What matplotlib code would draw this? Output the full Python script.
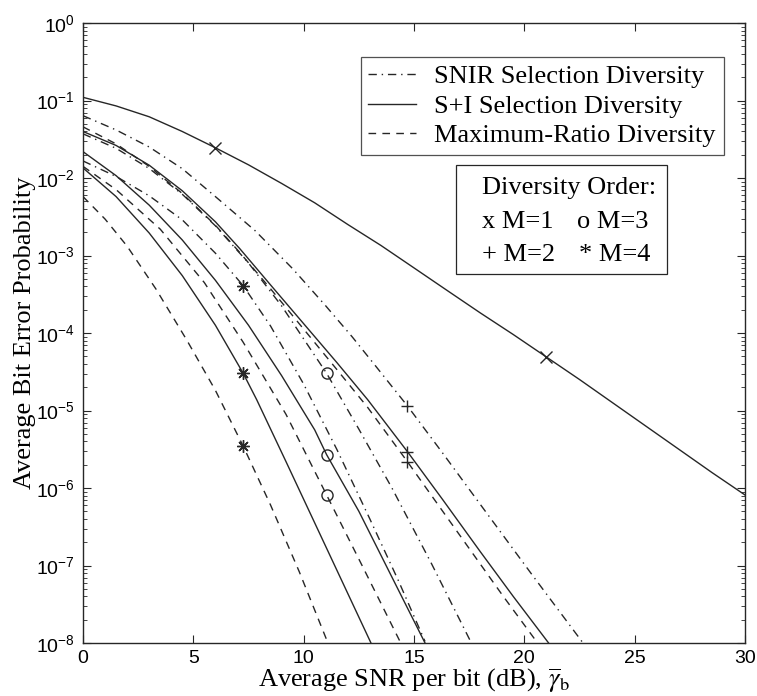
import numpy as np
import matplotlib
matplotlib.use('Agg')
import matplotlib.pyplot as plt
from matplotlib.lines import Line2D
from matplotlib.patches import Rectangle

plt.rcParams['font.family'] = ['Liberation Serif', 'DejaVu Serif']
plt.rcParams['mathtext.fontset'] = 'stix'

# valores lidos en escala log10 da probabilidade de erro

# M=1: as tres técnicas coinciden
snr_m1 = [0, 1.5, 3, 4.5, 6, 7.5, 9, 10.5, 12, 13.5, 15, 16.6, 18, 19.5, 21, 22.5, 24, 25.5, 27, 28.5, 30]
lp_m1 = [-0.959, -1.07, -1.21, -1.40, -1.61, -1.83, -2.07, -2.32, -2.60, -2.87, -3.16, -3.47,
         -3.74, -4.02, -4.31, -4.60, -4.90, -5.20, -5.50, -5.80, -6.09]

# M=2
snr_m2_snir = [0, 1.5, 3, 4.5, 6, 7.8, 9.5, 11, 12.2, 13.3, 14.7, 16.3, 18, 20.3, 22.66]
lp_m2_snir = [-1.196, -1.38, -1.60, -1.88, -2.24, -2.68, -3.17, -3.65, -4.05, -4.44, -4.94,
              -5.55, -6.21, -7.10, -8.0]
snr_m2_si = [0, 1.5, 3, 4.5, 6, 7.1, 8.5, 10, 11.5, 12.9, 14.7, 16.3, 18, 19.5, 21.1]
lp_m2_si = [-1.40, -1.58, -1.835, -2.165, -2.565, -2.91, -3.38, -3.88, -4.38, -4.86, -5.53,
            -6.15, -6.82, -7.40, -8.0]
snr_m2_mrc = [0, 1.5, 3, 4.5, 6, 7.1, 8.5, 10, 11.5, 12.9, 14.7, 16.3, 17.5, 19, 20.6]
lp_m2_mrc = [-1.34, -1.56, -1.85, -2.20, -2.61, -2.96, -3.43, -3.95, -4.47, -4.96, -5.66,
             -6.30, -6.78, -7.38, -8.0]

# M=3
snr_m3_snir = [0, 1.5, 3, 4.5, 6, 7.5, 9, 11.04, 12.5, 14, 15.8, 17.6]
lp_m3_snir = [-1.43, -1.617, -1.877, -2.21, -2.617, -3.097, -3.65, -4.52, -5.24, -6.0, -6.98, -8.0]
snr_m3_si = [0, 1.5, 3, 4.5, 6, 7.5, 9, 10.5, 11.04, 12.5, 14, 15.5]
lp_m3_si = [-1.66, -1.97, -2.35, -2.80, -3.32, -3.90, -4.55, -5.25, -5.57, -6.30, -7.15, -8.0]
snr_m3_mrc = [0, 1.5, 3.5, 5.5, 7.26, 9.2, 11.04, 12.7, 14.4]
lp_m3_mrc = [-1.85, -2.15, -2.66, -3.35, -4.12, -5.05, -6.09, -7.03, -8.0]

# M=4
snr_m4_snir = [0, 1.5, 3, 4.5, 6, 7.26, 8.5, 10, 11.5, 13, 14.3, 15.5]
lp_m4_snir = [-1.78, -1.98, -2.23, -2.54, -2.97, -3.39, -3.91, -4.66, -5.50, -6.40, -7.20, -7.98]
snr_m4_si = [0, 1.5, 3, 4.5, 6, 7.26, 7.87, 9.2, 10.5, 11.8, 13.05]
lp_m4_si = [-1.87, -2.24, -2.71, -3.26, -3.90, -4.52, -4.86, -5.66, -6.45, -7.24, -8.0]
snr_m4_mrc = [0, 1, 2, 3.3, 4.7, 6, 7.26, 8.5, 9.8, 11.1]
lp_m4_mrc = [-2.24, -2.53, -2.88, -3.43, -4.09, -4.74, -5.46, -6.22, -7.08, -8.0]

# marcadores de orde de diversidade
snr_x = [6, 21]
lp_x = [-1.61, -4.31]
snr_plus = [14.7, 14.7, 14.7]
lp_plus = [-4.94, -5.53, -5.66]
snr_o = [11.04, 11.04, 11.04]
lp_o = [-4.52, -5.57, -6.09]
snr_ast = [7.26, 7.26, 7.26]
lp_ast = [-3.39, -4.52, -5.46]

cor = '#262626'
lw = 1.0
dd = (0, (6, 3.5, 1, 3.5))
da = (0, (5.5, 4.5))


def trazo(ax, x, lp, ls):
    ax.semilogy(x, 10.0**np.array(lp), color=cor, lw=lw, ls=ls)


fig = plt.figure(figsize=(7.57, 6.96), dpi=100)
ax = fig.add_axes([83/757, 1-643/696, 662/757, 620/696])

trazo(ax, snr_m1, lp_m1, '-')

trazo(ax, snr_m2_snir, lp_m2_snir, dd)
trazo(ax, snr_m2_si, lp_m2_si, '-')
trazo(ax, snr_m2_mrc, lp_m2_mrc, da)

trazo(ax, snr_m3_snir, lp_m3_snir, dd)
trazo(ax, snr_m3_si, lp_m3_si, '-')
trazo(ax, snr_m3_mrc, lp_m3_mrc, da)

trazo(ax, snr_m4_snir, lp_m4_snir, dd)
trazo(ax, snr_m4_si, lp_m4_si, '-')
trazo(ax, snr_m4_mrc, lp_m4_mrc, da)

ax.semilogy(snr_x, 10.0**np.array(lp_x), ls='none', marker='x', ms=9, mew=1.0, color=cor)
ax.semilogy(snr_plus, 10.0**np.array(lp_plus), ls='none', marker='+', ms=9, mew=1.0, color=cor)
ax.semilogy(snr_o, 10.0**np.array(lp_o), ls='none', marker='o', ms=8, mew=1.0, mfc='none', color=cor)
ax.semilogy(snr_ast, 10.0**np.array(lp_ast), ls='none', marker=(8, 2, 0), ms=9, mew=1.0, color=cor)

ax.set_xlim(0, 30)
ax.set_ylim(1e-8, 1)
ax.set_xticks([0, 5, 10, 15, 20, 25, 30])
ax.tick_params(which='both', direction='in', top=True, right=True,
               labelsize=14, labelfontfamily='Liberation Sans', color=cor)
ax.tick_params(which='major', length=6, width=0.8, pad=6)
ax.tick_params(which='minor', length=3, width=0.6)
ax.tick_params(axis='x', which='major', pad=5)
for s in ax.spines.values():
    s.set_linewidth(1.0)
    s.set_color(cor)

ax.set_xlabel(r'Average SNR per bit (dB), $\overline{\gamma}_{\mathrm{b}}$', fontsize=19)
ax.xaxis.set_label_coords(0.5, -0.037)
ax.set_ylabel('Average Bit Error Probability', fontsize=19, labelpad=0)

handles = [Line2D([], [], color=cor, lw=lw, ls=dd),
           Line2D([], [], color=cor, lw=lw, ls='-'),
           Line2D([], [], color=cor, lw=lw, ls=da)]
labels = ['SNIR Selection Diversity', 'S+I Selection Diversity', 'Maximum-Ratio Diversity']
leg = ax.legend(handles, labels, loc='upper right', bbox_to_anchor=(0.968, 0.945),
                fontsize=19, frameon=True, fancybox=False, edgecolor=cor,
                handlelength=1.8, handletextpad=0.7, labelspacing=0.22,
                borderpad=0.3, borderaxespad=0)
leg.get_frame().set_linewidth(0.9)

ax.add_patch(Rectangle((0.5634, 0.595), 0.3187, 0.1758, transform=ax.transAxes,
                       fill=False, ec=cor, lw=0.9))
ax.text(0.6027, 0.734, 'Diversity Order:', transform=ax.transAxes, fontsize=19, va='center')
ax.text(0.6027, 0.679, 'x M=1', transform=ax.transAxes, fontsize=19, va='center')
ax.text(0.746, 0.679, 'o M=3', transform=ax.transAxes, fontsize=19, va='center')
ax.text(0.6027, 0.626, '+ M=2', transform=ax.transAxes, fontsize=19, va='center')
ax.text(0.749, 0.626, '* M=4', transform=ax.transAxes, fontsize=19, va='center')

fig.savefig('out.png', dpi=100)
